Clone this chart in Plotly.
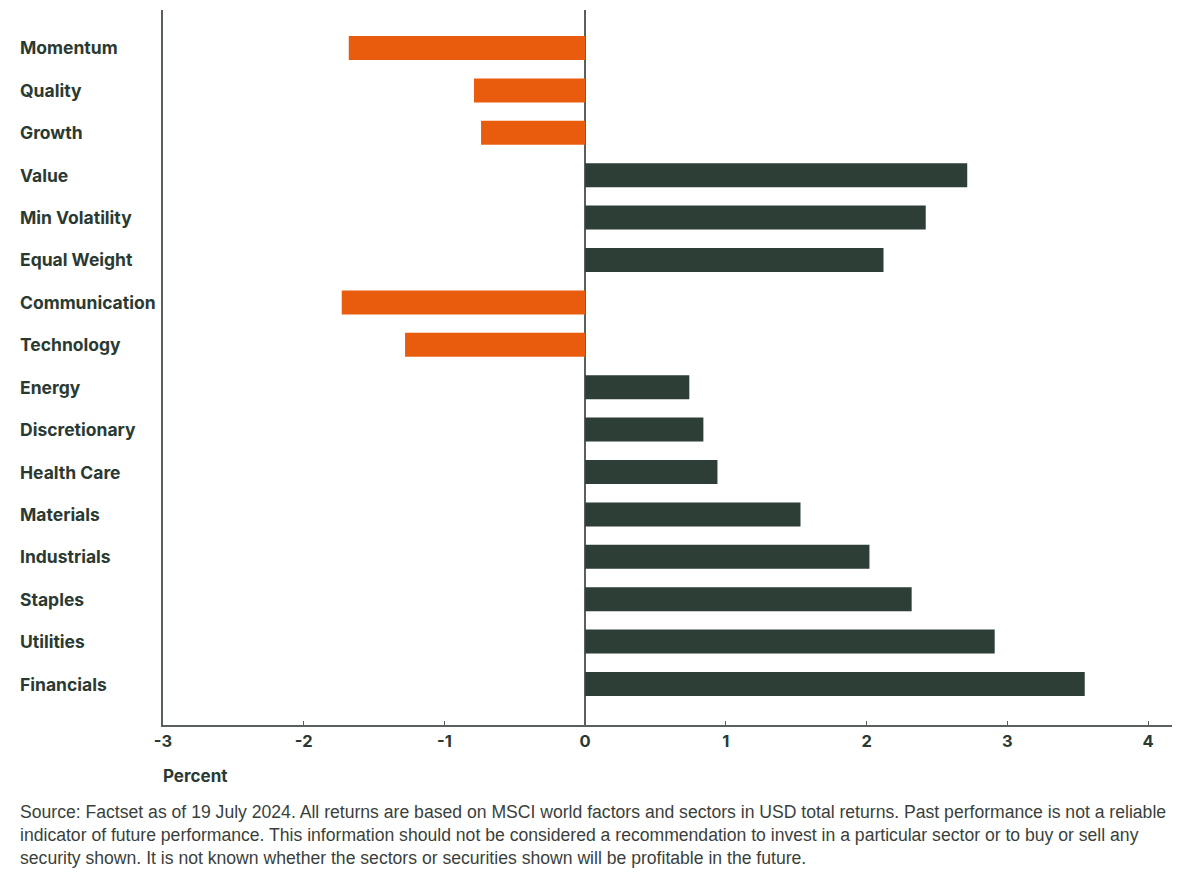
import plotly.graph_objects as go

categories = ["Momentum", "Quality", "Growth", "Value", "Min Volatility", "Equal Weight",
              "Communication", "Technology", "Energy", "Discretionary", "Health Care",
              "Materials", "Industrials", "Staples", "Utilities", "Financials"]
values = [-1.68, -0.79, -0.74, 2.715, 2.42, 2.12, -1.73, -1.28, 0.74, 0.84, 0.94,
          1.53, 2.02, 2.32, 2.91, 3.55]
tick_vals = [-3, -2, -1, 0, 1, 2, 3, 4]
x_title = "Percent"
footnote_lines = [
    "Source: Factset as of 19 July 2024. All returns are based on MSCI world factors and sectors in USD total returns. Past performance is not a reliable",
    "indicator of future performance. This information should not be considered a recommendation to invest in a particular sector or to buy or sell any",
    "security shown. It is not known whether the sectors or securities shown will be profitable in the future.",
]

ORANGE = "#e95c0e"
DARK = "#2c3e35"
TEXT = "#2a3a32"
AXIS = "#5a605c"

colors = [ORANGE if v < 0 else DARK for v in values]
idx = list(range(len(categories)))

OFF = 8  # page offset
W, H = 1191, 885
L, R, T, B = 163 - OFF, 19 + OFF, 10 - OFF, 160 + OFF
pw = W - L - R
ph = H - T - B
plot_bottom = H - B  # in figure coords


def yp(page_y):
    fy = page_y - OFF
    return (plot_bottom - fy) / ph


def xp(page_x):
    fx = page_x - OFF
    return (fx - L) / pw


fig = go.Figure(go.Bar(x=values, y=idx, orientation="h", marker=dict(color=colors, line=dict(width=0)),
                       width=0.566, hoverinfo="x+text", text=categories, textposition="none"))

annotations = []
for i, c in enumerate(categories):
    annotations.append(dict(x=xp(18), xref="paper", y=i, yref="y", text=c, showarrow=False,
                            xanchor="left", yanchor="middle",
                            font=dict(family="Inter", size=17.5, color=TEXT, weight="bold")))
annotations.append(dict(x=xp(161), xref="paper", y=yp(776), yref="paper", text=x_title,
                        showarrow=False, xanchor="left", yanchor="middle",
                        font=dict(family="Inter", size=17, color=TEXT, weight="bold")))
for k, line in enumerate(footnote_lines):
    annotations.append(dict(x=xp(18), xref="paper", y=yp(812 + 23 * k), yref="paper",
                            text=line, showarrow=False, xanchor="left", yanchor="middle", align="left",
                            font=dict(family="Liberation Sans", size=17.6, color="#3a3f3c")))

fig.update_layout(
    width=W, height=H,
    margin=dict(l=L, r=R, t=T, b=B),
    plot_bgcolor="white", paper_bgcolor="white",
    showlegend=False,
    annotations=annotations,
    xaxis=dict(range=[-3, 4.17], tickvals=tick_vals, ticktext=[str(v) for v in tick_vals],
               showgrid=False, zeroline=True, zerolinecolor=AXIS, zerolinewidth=1.5,
               showline=True, linecolor=AXIS, linewidth=1.5,
               ticks="inside", ticklen=4, tickcolor=AXIS,
               tickfont=dict(family="Inter", size=16.5, color=TEXT, weight="bold")),
    yaxis=dict(range=[15.967, -0.896], showticklabels=False, showgrid=False, zeroline=False,
               showline=True, linecolor=AXIS, linewidth=1.5, ticks=""),
)

fig.write_html("out.html")
